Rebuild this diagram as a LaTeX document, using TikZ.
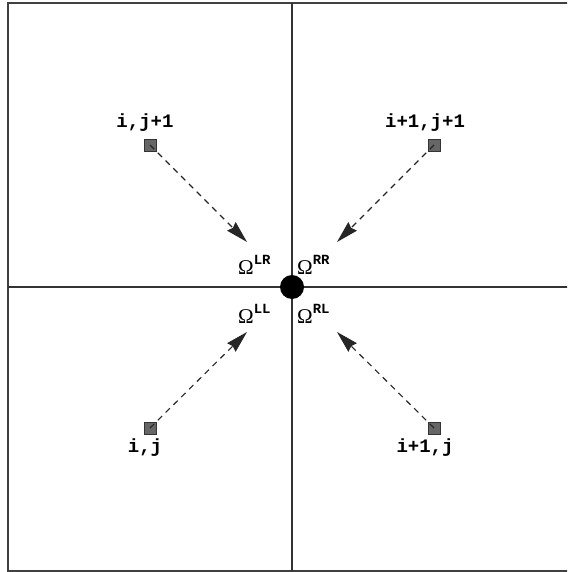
\documentclass[tikz,border=0pt]{standalone}
\usepackage{fontspec}
\setmonofont{Liberation Mono}
\newfontfamily\omegafont{Liberation Serif}
\usetikzlibrary{arrows.meta}
\tikzset{
  frameline/.style={draw=black!75, line width=1.6pt},
  gridline/.style={draw=black!80, line width=1.1pt},
  cell/.style={draw=black!80, fill=black!60, line width=0.8pt, minimum size=12pt, inner sep=0pt},
  flow/.style={draw=black!85, line width=1.1pt, dash pattern=on 6pt off 5pt,
    -{Stealth[length=22pt, width=12pt, inset=2pt]}},
  dotnode/.style={circle, fill=black, minimum size=24pt, inner sep=0pt},
  idx/.style={anchor=base, inner sep=0pt, font=\ttfamily\bfseries\fontsize{19}{19}\selectfont},
  omg/.style={anchor=base west, inner sep=0pt}
}
\newcommand{\Om}[1]{{\omegafont\fontsize{21}{21}\selectfont\symbol{"03A9}}\raisebox{10pt}{\ttfamily\bfseries\fontsize{14}{14}\selectfont #1}}
\begin{document}
\begin{tikzpicture}[x=1pt, y=-1pt]
\useasboundingbox (0,0) rectangle (567,572);
\clip (0,0) rectangle (567,572);
% frame and axes
\coordinate (nw) at (8,3);
\coordinate (se) at (590,571);
\coordinate (top) at (292,3);
\coordinate (bot) at (292,571);
\coordinate (lft) at (8,287);
\coordinate (rgt) at (590,287);
\draw[frameline] (nw) rectangle (se);
\draw[gridline] (top) -- (bot);
\draw[gridline] (lft) -- (rgt);
% cells
\node[cell] (c01) at (150,145) {};
\node[cell] (c11) at (434,145) {};
\node[cell] (c00) at (150,428) {};
\node[cell] (c10) at (434,428) {};
% arrow targets
\coordinate (t01) at (247,242);
\coordinate (t11) at (337,242);
\coordinate (t00) at (247,332);
\coordinate (t10) at (337,332);
\draw[flow] (c01.center) -- (t01);
\draw[flow] (c11.center) -- (t11);
\draw[flow] (c00.center) -- (t00);
\draw[flow] (c10.center) -- (t10);
% centre dot
\node[dotnode] (o) at (292,287) {};
% index labels
\node[idx] (l01) at (145,128) {i,j+1};
\node[idx] (l11) at (425,128) {i+1,j+1};
\node[idx] (l00) at (145,452) {i,j};
\node[idx] (l10) at (425,452) {i+1,j};
% omega labels
\node[omg] (olr) at (238,274) {\Om{LR}};
\node[omg] (orr) at (297,274) {\Om{RR}};
\node[omg] (oll) at (238,323) {\Om{LL}};
\node[omg] (orl) at (297,323) {\Om{RL}};
\end{tikzpicture}
\end{document}
